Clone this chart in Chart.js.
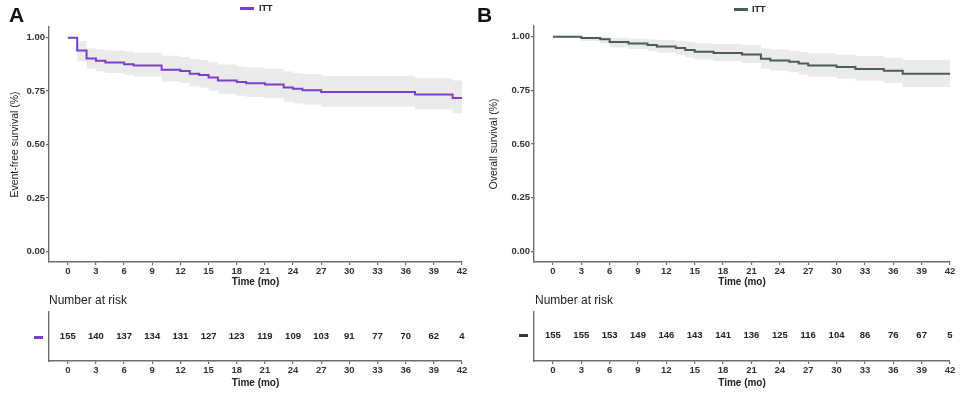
<!DOCTYPE html>
<html>
<head>
<meta charset="utf-8">
<script src="https://cdn.jsdelivr.net/npm/chart.js@4.4.1/dist/chart.umd.min.js"></script>
<style>
  body { margin: 0; background: #fff; font-family: "Liberation Sans", Arial, sans-serif; }
  #wrap { position: relative; width: 960px; height: 396px; overflow: hidden; }
  canvas { position: absolute; }
  .txt { position: absolute; white-space: nowrap; color: #111; line-height: 1; }
  .letter { font-weight: bold; font-size: 21px; }
  .leg { font-weight: bold; font-size: 9px; color: #222; }
  .risk { font-size: 12px; color: #222; }
  .dash { position: absolute; height: 3px; }
</style>
</head>
<body>
<div id="wrap">
  <canvas id="mainA" width="480" height="290" style="left:0;top:0"></canvas>
  <canvas id="riskA" width="480" height="106" style="left:0;top:290px"></canvas>
  <canvas id="mainB" width="480" height="290" style="left:480px;top:0"></canvas>
  <canvas id="riskB" width="480" height="106" style="left:480px;top:290px"></canvas>

  <div class="txt letter" style="left:9px;top:4px">A</div>
  <div class="txt letter" style="left:477px;top:4px">B</div>

  <div class="dash" style="left:240px;top:7px;width:14px;background:#7b3fc8"></div>
  <div class="txt leg" style="left:259px;top:4px">ITT</div>
  <div class="dash" style="left:734px;top:8px;width:14px;background:#4a5c5c"></div>
  <div class="txt leg" style="left:752px;top:5px">ITT</div>

  <div class="txt risk" style="left:49px;top:294px">Number at risk</div>
  <div class="txt risk" style="left:535px;top:294px">Number at risk</div>
  <div class="dash" style="left:34px;top:336px;width:9px;background:#7b3fc8"></div>
  <div class="dash" style="left:519px;top:334px;width:9px;background:#2f3b3b"></div>
</div>
<script>
// time axis ticks (months)
const timeTicks = [0, 3, 6, 9, 12, 15, 18, 21, 24, 27, 30, 33, 36, 39, 42];
const survTicks = [0, 0.25, 0.5, 0.75, 1];

// A: event-free survival, ITT
const efsTime  = [0, 1, 2, 3, 4, 6, 7, 10, 12, 13, 14, 15, 16, 18, 19, 21, 23, 24, 25, 27, 37, 41, 42];
const efsSurv  = [1, 0.94, 0.903, 0.892, 0.884, 0.876, 0.87, 0.85, 0.844, 0.831, 0.825, 0.814, 0.8, 0.793, 0.787, 0.781, 0.767, 0.761, 0.754, 0.746, 0.734, 0.718, 0.718];
const efsUpper = [1, 0.985, 0.95, 0.945, 0.94, 0.935, 0.93, 0.915, 0.91, 0.9, 0.895, 0.885, 0.875, 0.865, 0.86, 0.855, 0.842, 0.835, 0.83, 0.822, 0.81, 0.8, 0.8];
const efsLower = [1, 0.89, 0.855, 0.843, 0.835, 0.826, 0.818, 0.795, 0.788, 0.773, 0.766, 0.752, 0.737, 0.728, 0.722, 0.716, 0.7, 0.693, 0.686, 0.677, 0.664, 0.646, 0.646];
const efsRisk  = [155, 140, 137, 134, 131, 127, 123, 119, 109, 103, 91, 77, 70, 62, 4];

// B: overall survival, ITT
const osTime  = [0, 3, 5, 6, 8, 10, 11, 13, 14, 15, 17, 20, 22, 23, 25, 26, 27, 30, 32, 35, 37, 42];
const osSurv  = [1, 0.994, 0.988, 0.975, 0.969, 0.962, 0.955, 0.948, 0.938, 0.93, 0.924, 0.917, 0.897, 0.889, 0.883, 0.875, 0.866, 0.859, 0.85, 0.841, 0.828, 0.828];
const osUpper = [1, 1, 1, 0.995, 0.992, 0.988, 0.985, 0.98, 0.975, 0.97, 0.966, 0.962, 0.945, 0.94, 0.935, 0.93, 0.922, 0.916, 0.91, 0.902, 0.893, 0.893];
const osLower = [1, 0.98, 0.97, 0.95, 0.943, 0.933, 0.925, 0.916, 0.903, 0.893, 0.886, 0.877, 0.852, 0.842, 0.834, 0.824, 0.813, 0.805, 0.795, 0.784, 0.766, 0.766];
const osRisk  = [155, 155, 153, 149, 146, 143, 141, 136, 125, 116, 104, 86, 76, 67, 5];

const FONT = '"Liberation Sans", Arial, sans-serif';
const AXIS = '#6e6e6e';

function pts(xs, ys) {
  return xs.map((x, i) => ({ x: x, y: ys[i] }));
}

function xAxis(height, titlePad) {
  return {
    type: 'linear', min: -2, max: 42,
    afterBuildTicks: s => { s.ticks = timeTicks.map(v => ({ value: v })); },
    afterFit: s => { s.height = height; },
    grid: { drawOnChartArea: false, drawTicks: true, tickLength: 3, color: AXIS, lineWidth: 1.2 },
    border: { display: true, color: AXIS, width: 1.4 },
    ticks: { color: '#333', padding: 1, maxRotation: 0, autoSkip: false, font: { family: FONT, size: 9.5, weight: 'bold' } },
    title: { display: true, text: 'Time (mo)', color: '#222', padding: { top: 0, bottom: titlePad }, font: { family: FONT, size: 10, weight: 'bold' } }
  };
}

function makeMain(id, color, times, surv, up, lo, yTitle, leftW, top, right, titleOff) {
  new Chart(document.getElementById(id), {
    type: 'line',
    data: {
      datasets: [
        // KM line drawn on top of the confidence band
        { label: 'ITT', data: pts(times, surv), stepped: 'before', borderColor: color, borderWidth: 2, pointRadius: 0, fill: false, order: 0 },
        { label: 'upper', data: pts(times, up), stepped: 'before', borderWidth: 0, pointRadius: 0, fill: false, order: 2 },
        { label: 'lower', data: pts(times, lo), stepped: 'before', borderWidth: 0, pointRadius: 0, fill: '-1', backgroundColor: 'rgba(225,225,225,0.7)', order: 1 }
      ]
    },
    options: {
      responsive: false, animation: false,
      layout: { padding: { top: top, right: right, left: 0, bottom: 0 } },
      plugins: { legend: { display: false }, tooltip: { enabled: false } },
      scales: {
        x: xAxis(28, 2),
        y: {
          type: 'linear', min: -0.05, max: 1.05,
          afterBuildTicks: s => { s.ticks = survTicks.map(v => ({ value: v })); },
          afterFit: s => { s.width = leftW; },
          grid: { drawOnChartArea: false, drawTicks: true, tickLength: 3, color: AXIS, lineWidth: 1.2 },
          border: { display: true, color: AXIS, width: 1.4 },
          ticks: { color: '#333', padding: 1, callback: v => v.toFixed(2), font: { family: FONT, size: 9.5, weight: 'bold' } },
          title: { display: true, text: yTitle, color: '#222', padding: { top: titleOff, bottom: 0 }, font: { family: FONT, size: 10.5 } }
        }
      }
    }
  });
}

const riskLabels = {
  id: 'riskLabels',
  afterDatasetsDraw(chart) {
    const ctx = chart.ctx, xs = chart.scales.x, ys = chart.scales.y;
    ctx.save();
    ctx.font = 'bold 9.5px ' + FONT;
    ctx.fillStyle = '#222';
    ctx.textAlign = 'center';
    ctx.textBaseline = 'middle';
    chart.data.datasets[0].data.forEach(p => {
      ctx.fillText(String(p.n), xs.getPixelForValue(p.x), ys.getPixelForValue(p.y));
    });
    ctx.restore();
  }
};

function makeRisk(id, risk, leftW, right, rowY) {
  new Chart(document.getElementById(id), {
    type: 'scatter',
    data: { datasets: [{ data: timeTicks.map((t, i) => ({ x: t, y: rowY, n: risk[i] })), pointRadius: 0 }] },
    options: {
      responsive: false, animation: false,
      layout: { padding: { top: 22, right: right, left: 0, bottom: 0 } },
      plugins: { legend: { display: false }, tooltip: { enabled: false } },
      scales: {
        x: xAxis(35, 7),
        y: {
          type: 'linear', min: 0, max: 1,
          afterFit: s => { s.width = leftW; },
          grid: { drawOnChartArea: false, drawTicks: false },
          border: { display: true, color: AXIS, width: 1.4 },
          ticks: { display: false }
        }
      }
    },
    plugins: [riskLabels]
  });
}

makeMain('mainA', '#7b3fc8', efsTime, efsSurv, efsUpper, efsLower, 'Event-free survival (%)', 49, 27, 18, 9);
makeMain('mainB', '#4a5c5c', osTime, osSurv, osUpper, osLower, 'Overall survival (%)', 54, 26, 10, 8);
makeRisk('riskA', efsRisk, 49, 18, 0.5);
makeRisk('riskB', osRisk, 54, 10, 0.53);
</script>
</body>
</html>
